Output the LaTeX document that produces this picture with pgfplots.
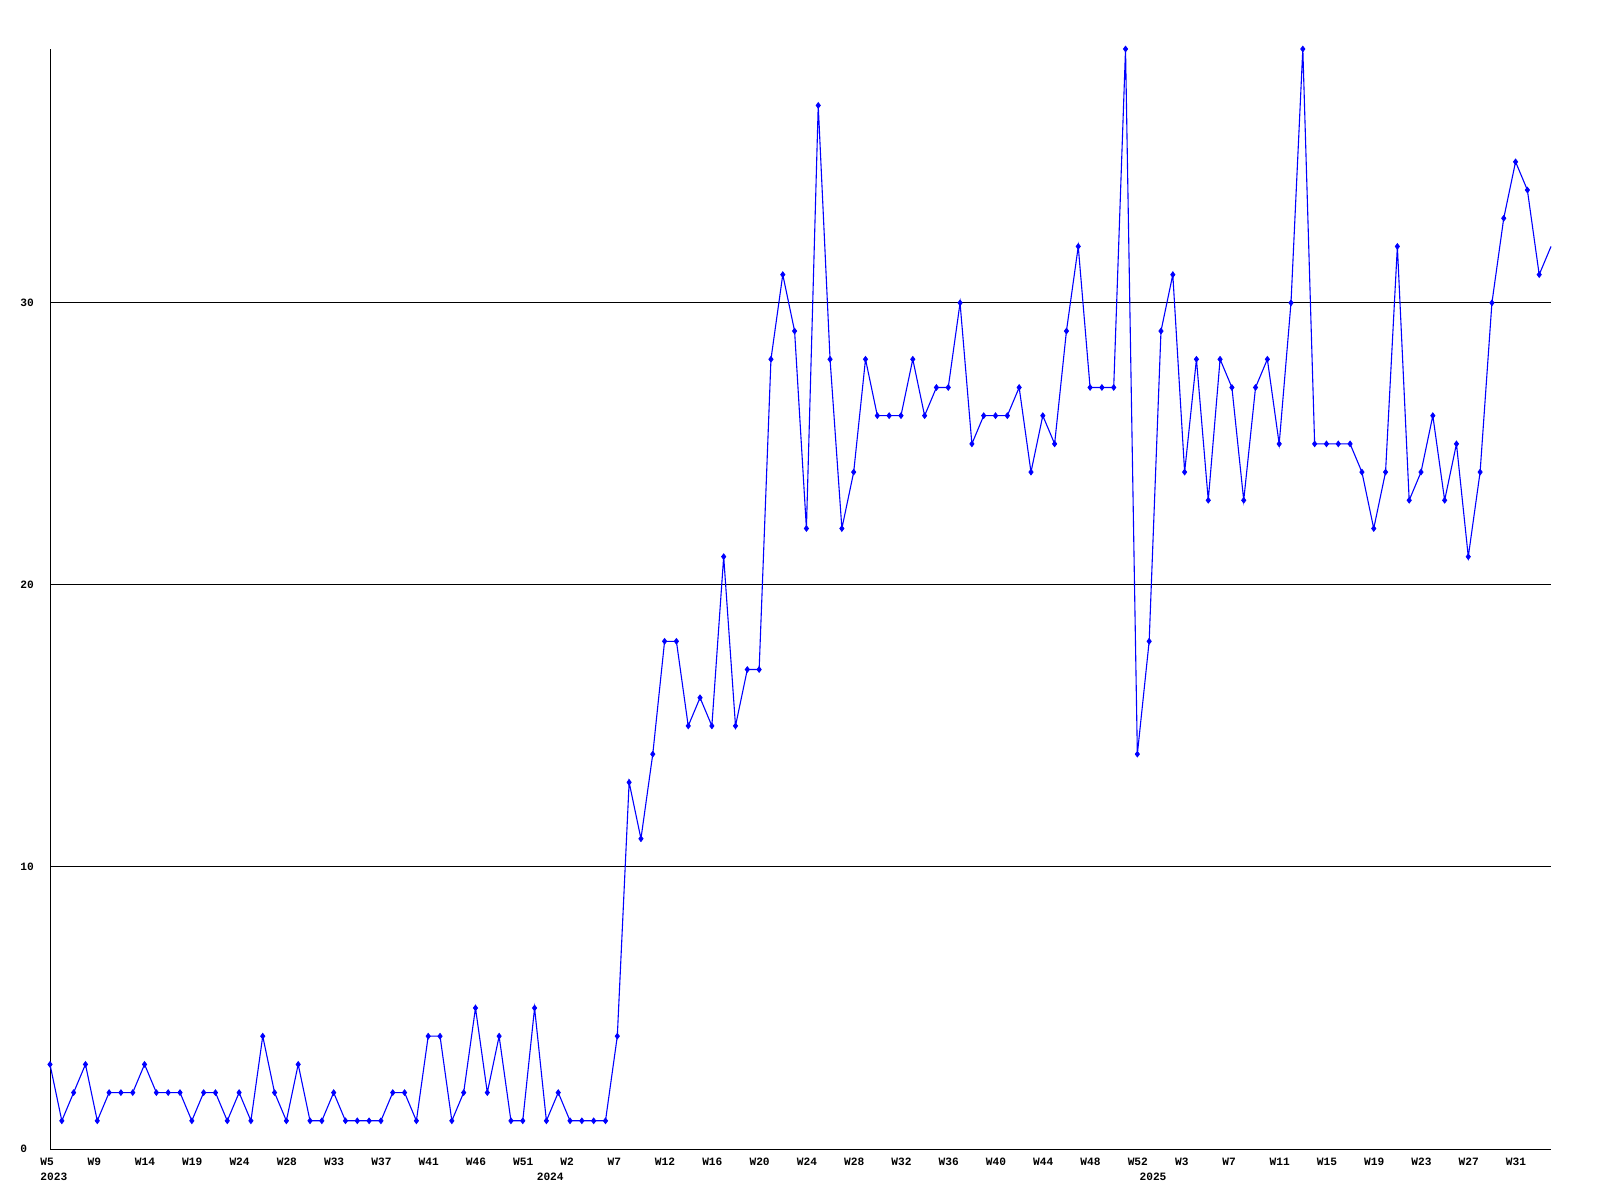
\documentclass[border=0pt]{standalone}
\usepackage{fontspec}
\usepackage{pgfplots}
\usepackage{pgfplotstable}
\pgfplotsset{compat=1.18}
\newfontfamily\labfont{Liberation Mono}
\newcommand\lab{\labfont\bfseries\fontsize{5.6pt}{6pt}\selectfont}
\definecolor{lineblue}{RGB}{0,0,255}
\pgfplotstableread{
i v
0 3
1 1
2 2
3 3
4 1
5 2
6 2
7 2
8 3
9 2
10 2
11 2
12 1
13 2
14 2
15 1
16 2
17 1
18 4
19 2
20 1
21 3
22 1
23 1
24 2
25 1
26 1
27 1
28 1
29 2
30 2
31 1
32 4
33 4
34 1
35 2
36 5
37 2
38 4
39 1
40 1
41 5
42 1
43 2
44 1
45 1
46 1
47 1
48 4
49 13
50 11
51 14
52 18
53 18
54 15
55 16
56 15
57 21
58 15
59 17
60 17
61 28
62 31
63 29
64 22
65 37
66 28
67 22
68 24
69 28
70 26
71 26
72 26
73 28
74 26
75 27
76 27
77 30
78 25
79 26
80 26
81 26
82 27
83 24
84 26
85 25
86 29
87 32
88 27
89 27
90 27
91 39
92 14
93 18
94 29
95 31
96 24
97 28
98 23
99 28
100 27
101 23
102 27
103 28
104 25
105 30
106 39
107 25
108 25
109 25
110 25
111 24
112 22
113 24
114 32
115 23
116 24
117 26
118 23
119 25
120 21
121 24
122 30
123 33
124 35
125 34
126 31
127 32
}\datatable
\begin{document}
\begin{tikzpicture}
\useasboundingbox (0,0) rectangle (800pt,600pt);
\begin{axis}[
  at={(25pt,25.5pt)}, anchor=south west,
  scale only axis, width=750.5pt, height=550pt,
  xmin=0, xmax=127, ymin=0, ymax=39,
  axis lines=left, axis line style={-, black, line width=0.5pt},
  clip=false,
  major tick length=0pt,
  ytick={0,10,20,30}, yticklabels={0,10,20,30},
  ymajorgrids, grid style={black, line width=0.5pt},
  xtick={0,4,...,124},
  xticklabels={W5,W9,W14,W19,W24,W28,W33,W37,W41,W46,W51,W2,W7,W12,W16,W20,W24,W28,W32,W36,W40,W44,W48,W52,W3,W7,W11,W15,W19,W23,W27,W31},
  extra x ticks={0,42,93},
  extra x tick labels={2023,2024,2025},
  extra x tick style={xticklabel style={yshift=-7.5pt}},
  /pgf/number format/assume math mode=true,
  ticklabel style={font=\lab},
  xticklabel style={anchor=north west, inner sep=0pt, xshift=-5pt, yshift=-4.5pt},
  yticklabel style={anchor=west, inner sep=0pt, xshift=-15pt},
]
\addplot[lineblue, line width=0.55pt, no markers] table[x=i, y=v] {\datatable};
\addplot[lineblue, only marks, mark=diamond*, mark size=1.4pt, restrict x to domain=0:126] table[x=i, y=v] {\datatable};
\end{axis}
\end{tikzpicture}
\end{document}
